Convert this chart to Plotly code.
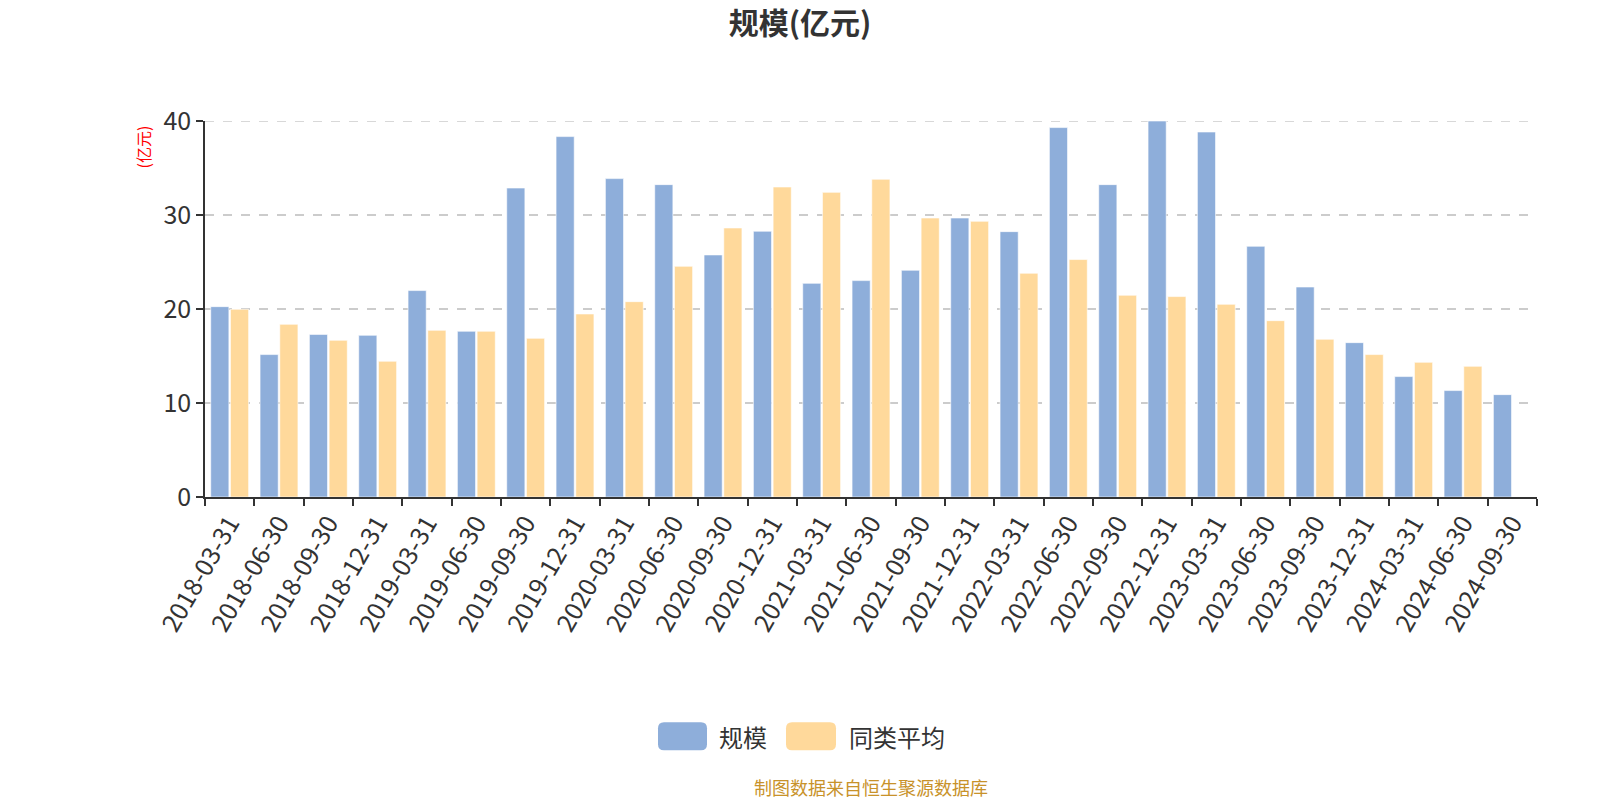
import plotly.graph_objects as go

categories = ["2018-03-31","2018-06-30","2018-09-30","2018-12-31","2019-03-31","2019-06-30","2019-09-30","2019-12-31",
              "2020-03-31","2020-06-30","2020-09-30","2020-12-31","2021-03-31","2021-06-30","2021-09-30","2021-12-31",
              "2022-03-31","2022-06-30","2022-09-30","2022-12-31","2023-03-31","2023-06-30","2023-09-30","2023-12-31",
              "2024-03-31","2024-06-30","2024-09-30"]
scale = [20.25, 15.15, 17.3, 17.2, 21.96, 17.63, 32.87, 38.34, 33.87, 33.23, 25.75, 28.27, 22.73, 23.02, 24.12, 29.68,
         28.23, 39.3, 33.23, 40.0, 38.83, 26.67, 22.34, 16.42, 12.81, 11.32, 10.89]
peer_avg = [19.97, 18.37, 16.67, 14.44, 17.73, 17.63, 16.88, 19.47, 20.78, 24.54, 28.62, 32.98, 32.41, 33.8, 29.68, 29.33,
            23.8, 25.26, 21.46, 21.32, 20.5, 18.76, 16.78, 15.15, 14.33, 13.9, None]
series_names = ["规模", "同类平均"]
series_colors = ["#8EAEDA", "#FFD99B"]
y_ticks = [0, 10, 20, 30, 40]

FONT = "Noto Sans CJK SC"

fig = go.Figure()
for name, vals, col in zip(series_names, [scale, peer_avg], series_colors):
    fig.add_trace(go.Bar(name=name, x=categories, y=vals,
                         marker=dict(color=col, line=dict(color="rgba(255,255,255,0.6)", width=1))))

fig.update_layout(
    width=1600, height=800,
    paper_bgcolor="white", plot_bgcolor="white",
    margin=dict(l=205, r=63, t=121, b=303, autoexpand=False),
    font=dict(family=FONT, color="#333333"),
    title=dict(text="<b>规模(亿元)</b>", x=0.5, xref="container", xanchor="center",
               y=0.971, yref="container", yanchor="middle",
               font=dict(size=30, color="#333333", family=FONT)),
    barmode="group", bargap=0.2, bargroupgap=0.08,
    showlegend=False,
    xaxis=dict(type="category", tickangle=-60, tickson="boundaries", ticks="outside", ticklen=7,
               tickwidth=1.5, tickcolor="#333333", showline=True, linecolor="#333333", linewidth=1.5,
               tickfont=dict(size=25, color="#333333", family=FONT), showgrid=False, automargin=False),
    yaxis=dict(range=[y_ticks[0], y_ticks[-1]], tickvals=y_ticks, ticks="outside", ticklen=7, tickwidth=1.5,
               tickcolor="#333333", showline=True, linecolor="#333333", linewidth=1.5,
               tickfont=dict(size=25, color="#333333", family=FONT), automargin=False,
               showgrid=True, gridcolor="#cccccc", gridwidth=1.5, griddash="dash", zeroline=False),
)

# top gridline (hidden by plotly at the range edge)
fig.add_shape(type="line", xref="paper", yref="y", x0=0, x1=1, y0=y_ticks[-1], y1=y_ticks[-1],
              line=dict(color="#cccccc", width=1.5, dash="dash"), layer="below")

# custom legend (rounded swatches)
def rounded_rect(x0, x1, y0, y1, r):
    return (f"M{x0+r},{y0} L{x1-r},{y0} Q{x1},{y0} {x1},{y0+r} L{x1},{y1-r} Q{x1},{y1} {x1-r},{y1} "
            f"L{x0+r},{y1} Q{x0},{y1} {x0},{y1-r} L{x0},{y0+r} Q{x0},{y0} {x0+r},{y0} Z")

legend_y = -0.6364
swatch_offsets = [(-213, -164), (-85, -35)]
text_x = [0.3846, 0.4818]
for (a, b), col, name, tx in zip(swatch_offsets, series_colors, series_names, text_x):
    fig.add_shape(type="path", xref="paper", yref="paper", xsizemode="pixel", ysizemode="pixel",
                  xanchor=0.5, yanchor=legend_y, path=rounded_rect(a, b, -14, 14, 6),
                  fillcolor=col, line=dict(width=0))
    fig.add_annotation(text=name, xref="paper", yref="paper", x=tx, y=legend_y, xanchor="left",
                       yanchor="middle", showarrow=False,
                       font=dict(size=24, color="#333333", family=FONT))

fig.add_annotation(text="(亿元)", xref="paper", yref="paper", x=-0.0465, y=0.93, textangle=-90,
                   showarrow=False, font=dict(size=16, color="#ff0000", family=FONT),
                   xanchor="center", yanchor="middle")
fig.add_annotation(text="制图数据来自恒生聚源数据库", xref="paper", yref="paper", x=0.5, y=-0.771,
                   showarrow=False, font=dict(size=18, color="#C8922A", family=FONT),
                   xanchor="center", yanchor="middle", borderpad=0)

fig.write_html("out.html", config={"displayModeBar": False},
               post_script="document.body.style.margin='0';document.body.style.overflow='hidden';")
